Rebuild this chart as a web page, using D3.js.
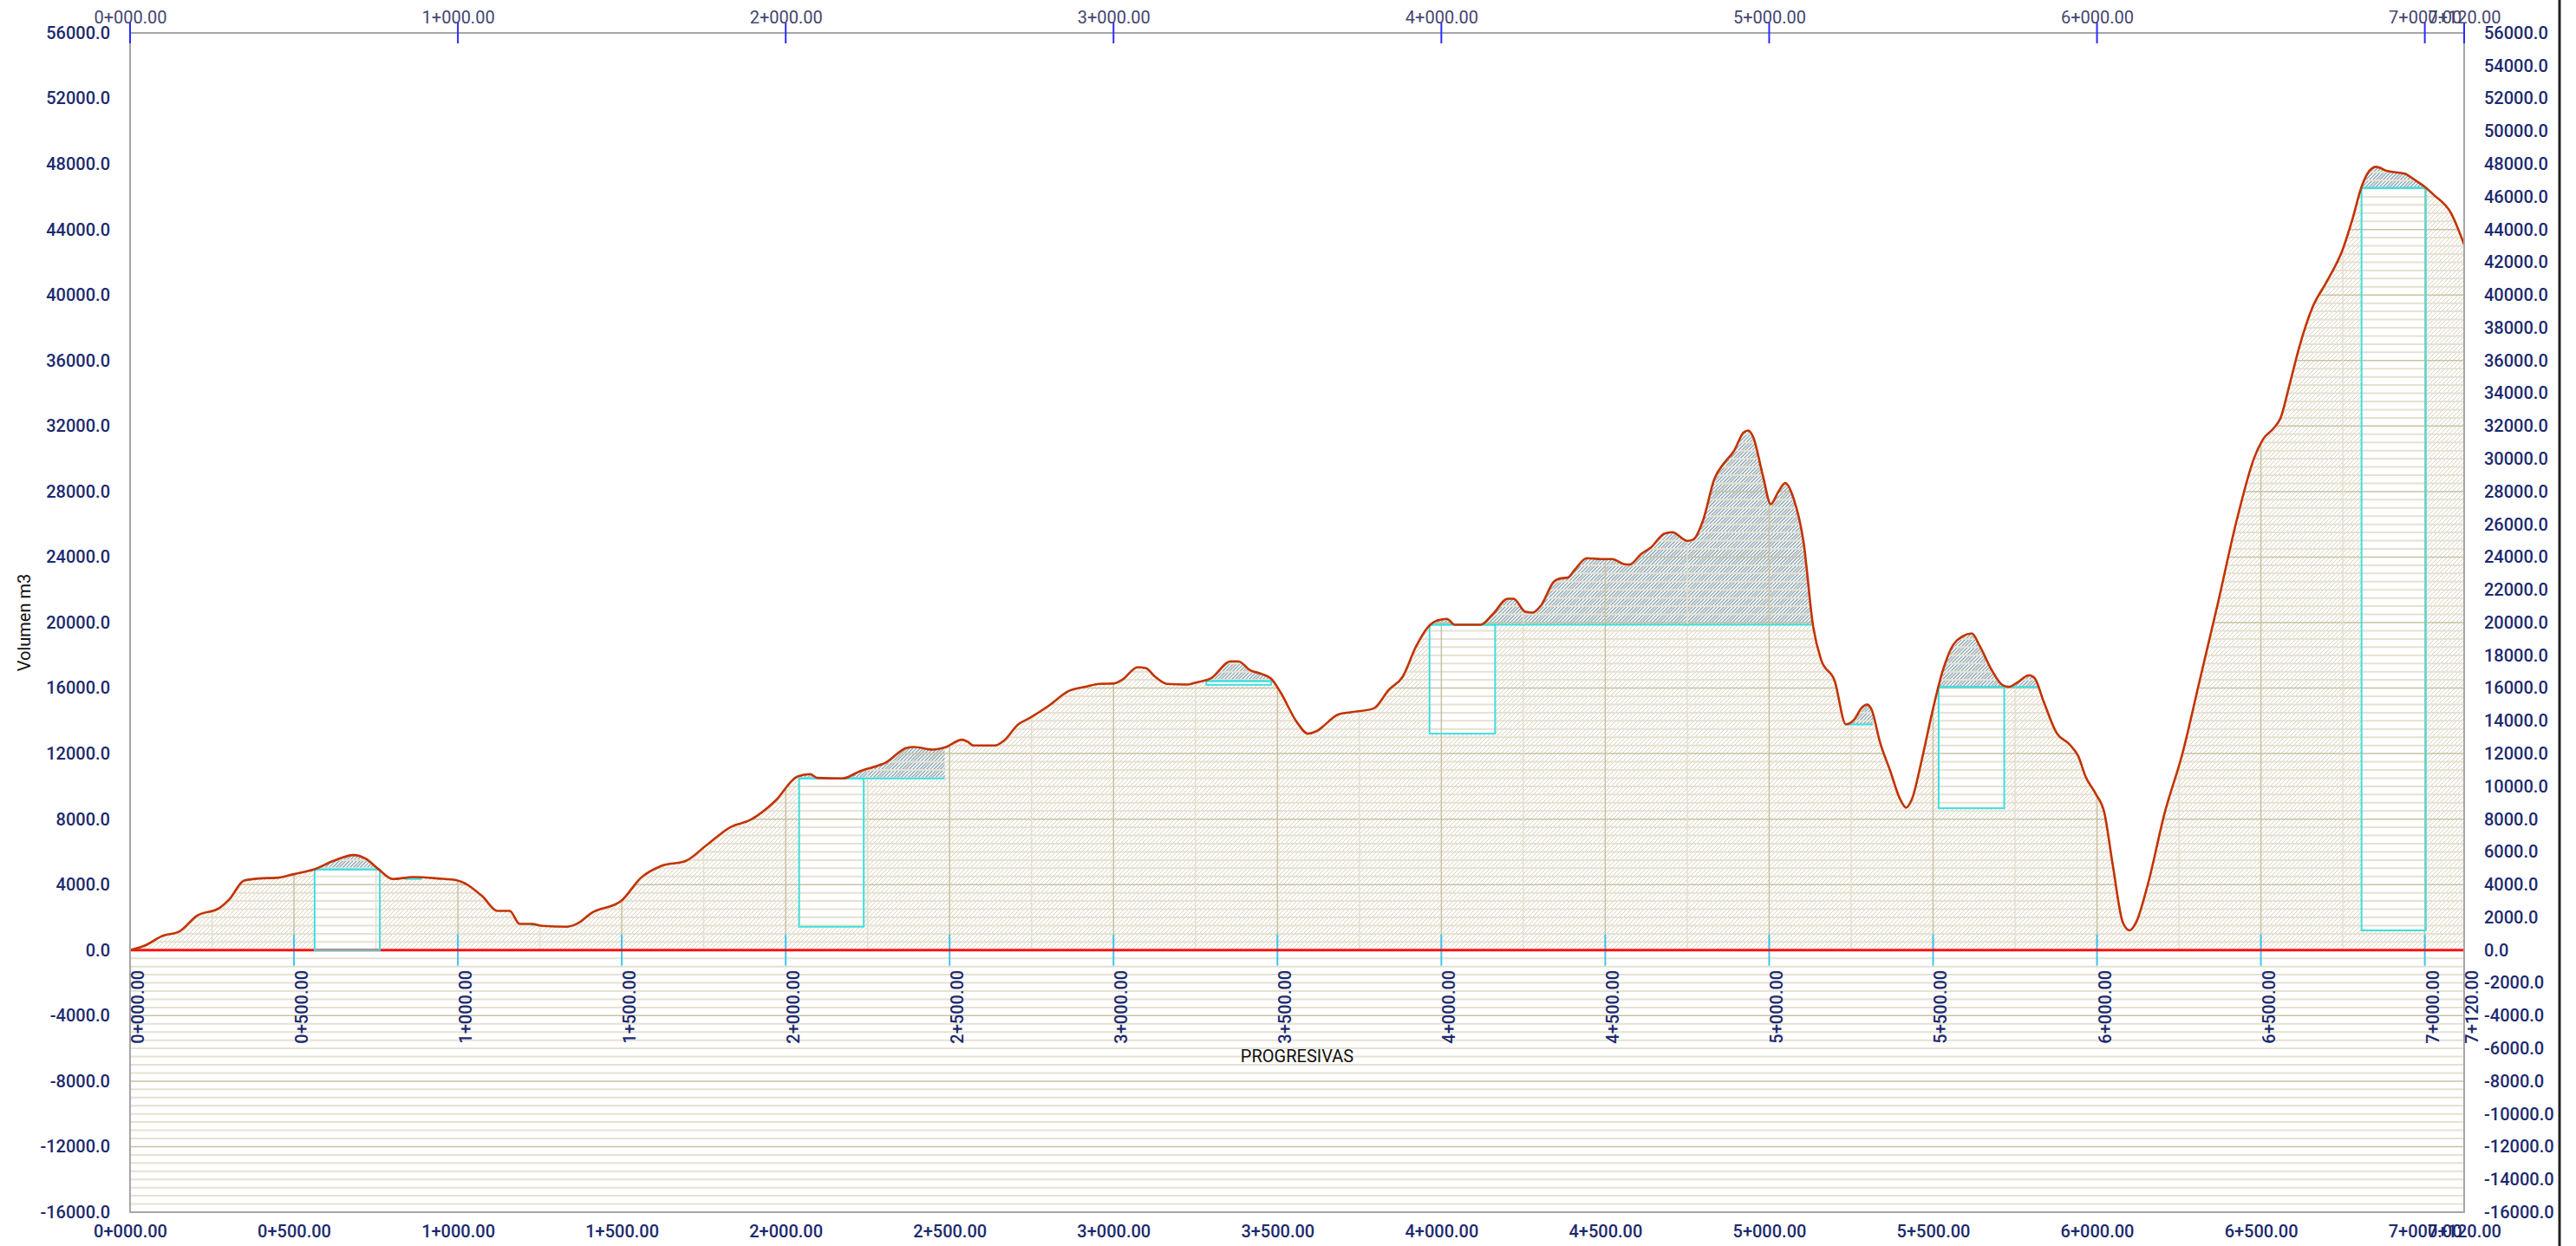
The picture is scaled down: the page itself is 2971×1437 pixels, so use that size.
<!DOCTYPE html>
<html><head><meta charset="utf-8">
<script src="https://cdn.jsdelivr.net/npm/d3@7"></script>
<style>html,body{margin:0;padding:0;background:#fff;} svg{display:block;font-family:Roboto,"DejaVu Sans",sans-serif;}</style>
</head><body><svg id="chart" width="2971" height="1437"></svg>
<script>
// ---- DATA ----
const stations = [0,45,98,151,204,273,303,348,394,454,500,560,621,681,719,757,802,863,939,999,1075,1120,1158,1188,1226,1257,1332,1363,1408,1499,1559,1620,1696,1756,1832,1893,1968,2036,2074,2097,2173,2226,2308,2367,2391,2449,2485,2538,2555,2573,2638,2667,2709,2744,2803,2862,2921,2956,3003,3027,3074,3098,3127,3163,3227,3251,3298,3357,3381,3416,3451,3481,3510,3558,3593,3616,3687,3723,3793,3840,3882,3923,3958,3988,4017,4041,4120,4156,4203,4220,4256,4279,4303,4344,4362,4386,4409,4444,4486,4521,4556,4574,4610,4639,4680,4704,4751,4769,4798,4833,4863,4892,4922,4936,4951,4981,5005,5028,5049,5075,5105,5134,5158,5200,5234,5258,5282,5299,5311,5339,5369,5400,5418,5435,5466,5497,5528,5554,5590,5618,5643,5678,5713,5731,5757,5793,5810,5837,5877,5917,5943,5965,5996,6022,6048,6079,6100,6119,6154,6207,6260,6313,6366,6428,6480,6507,6538,6560,6586,6617,6657,6701,6749,6780,6807,6825,6851,6886,6939,6965,7000,7027,7080,7120];
const volumes = [0,281,864,1149,2100,2577,3107,4253,4376,4429,4641,4923,5453,5805,5577,4958,4341,4465,4376,4253,3282,2400,2400,1606,1606,1482,1429,1606,2276,3018,4429,5135,5453,6370,7517,7958,9106,10606,10747,10518,10482,10924,11488,12335,12405,12247,12370,12847,12723,12494,12494,12811,13782,14170,14929,15811,16110,16253,16288,16517,17275,17222,16693,16253,16217,16340,16605,17629,17629,17100,16870,16570,15723,13958,13217,13340,14400,14523,14752,15900,16693,18546,19694,20135,20223,19870,19870,20488,21458,21458,20664,20611,21017,22517,22694,22747,23277,23929,23876,23876,23576,23541,24194,24582,25429,25517,24988,25076,26223,28782,29753,30459,31605,31729,31341,28958,27229,27988,28517,27547,24899,19782,17753,16428,13782,14047,14788,14990,14752,12635,10959,9194,8700,9194,11665,14488,16958,18370,19164,19341,18546,17135,16164,16075,16340,16782,16605,15193,13253,12547,11841,10606,9547,8423,5215,1684,1207,1684,3933,8423,11954,16443,20938,26391,30080,31203,31843,32489,34411,36820,39229,40827,42754,44681,46603,47408,47826,47566,47408,47085,46603,46121,44999,43077];

// balance rectangles (cyan)
const rectStart  = [563, 2041, 3283, 3964, 5517, 6807];
const rectEnd    = [762, 2238, 3481, 4164, 5717, 7003];
const rectTop    = [4923, 10482, 16428, 19870, 16075, 46540];
const rectBottom = [0, 1429, 16200, 13217, 8665, 1207];

// balance lines (cyan horizontals with hatched surplus above)
const balStart = [563, 838, 1222, 2041, 3283, 3964, 5234, 5517, 6807];
const balEnd   = [762, 891, 1246, 2485, 3481, 5128, 5317, 5819, 7003];
const balValue = [4923, 4341, 1535, 10482, 16428, 19870, 13782, 16075, 46540];

const leftTicks  = d3.range(56000, -16001, -4000);
const rightTicks = d3.range(56000, -16001, -2000);
const topTicks   = [0,1000,2000,3000,4000,5000,6000,7000,7120];
const bottomTicks= [0,500,1000,1500,2000,2500,3000,3500,4000,4500,5000,5500,6000,6500,7000,7120];

// ---- SCALES ----
const L=150, R=2842, T=38, B=1398;
const x = d3.scaleLinear().domain([0,7120]).range([L,R]);
const y = d3.scaleLinear().domain([-16000,56000]).range([B,T]);
const pts = stations.map((s,i)=>({s, v:volumes[i]}));
const fmtSt = s => Math.floor(s/1000)+"+"+((s%1000).toFixed(2)).padStart(6,"0");
const fmtV = v => v.toFixed(1);

const svg = d3.select("#chart");
const defs = svg.append("defs");
function hatch(id, color, w, sp){
  const p = defs.append("pattern").attr("id",id).attr("patternUnits","userSpaceOnUse")
    .attr("width",sp).attr("height",sp);
  p.append("path").attr("d",`M-1,1 L1,-1 M0,${sp} L${sp},0 M${sp-1},${sp+1} L${sp+1},${sp-1}`)
    .attr("stroke",color).attr("stroke-width",w);
}
hatch("hb","#d8d1bb",1,5);
hatch("hblue","#8facbd",1.3,4);

const areaUnder = d3.area().x(d=>x(d.s)).y0(y(0)).y1(d=>y(d.v)).curve(d3.curveMonotoneX);
defs.append("clipPath").attr("id","under").append("path").attr("d",areaUnder(pts));

// grid below zero
const gBelow = svg.append("g");
d3.range(-500,-16001,-500).forEach(v=>{
  const dark = v%4000===0;
  gBelow.append("line").attr("x1",L).attr("x2",R).attr("y1",y(v)).attr("y2",y(v))
   .attr("stroke",dark?"#c9c1a1":"#e6e1d2").attr("stroke-width",dark?1.5:2);
});

// under-curve content
const gU = svg.append("g").attr("clip-path","url(#under)");
gU.append("rect").attr("x",L).attr("y",T).attr("width",R-L).attr("height",y(0)-T).attr("fill","url(#hb)");
balStart.forEach((s,i)=>{
  gU.append("rect").attr("x",x(s)).attr("y",T).attr("width",x(balEnd[i])-x(s)).attr("height",y(balValue[i])-T)
    .attr("fill","url(#hblue)");
});
rectStart.forEach((s,i)=>{
  gU.append("rect").attr("x",x(s)).attr("y",y(rectTop[i])).attr("width",x(rectEnd[i])-x(s))
    .attr("height",y(rectBottom[i])-y(rectTop[i])).attr("fill","#fff");
});
d3.range(500,56001,500).forEach(v=>{
  const dark = v%4000===0;
  gU.append("line").attr("x1",L).attr("x2",R).attr("y1",y(v)).attr("y2",y(v))
   .attr("stroke",dark?"#c9c1a1":"#e6e1d2").attr("stroke-width",dark?1.5:2);
});
d3.range(250,7120,250).forEach(s=>{
  const dark = s%500===0;
  gU.append("line").attr("x1",x(s)).attr("x2",x(s)).attr("y1",T).attr("y2",y(0))
   .attr("stroke",dark?"#c9c1a1":"#e3dfcf").attr("stroke-width",1.5);
});

// cyan ticks on zero line
bottomTicks.forEach(s=>{
  svg.append("line").attr("x1",x(s)).attr("x2",x(s)).attr("y1",y(950)).attr("y2",y(-950))
    .attr("stroke","#3cc6f2").attr("stroke-width",2);
});
// zero line
svg.append("line").attr("x1",L).attr("x2",R).attr("y1",y(0)).attr("y2",y(0))
  .attr("stroke","#ff1010").attr("stroke-width",3);

// balance lines & rects
balStart.forEach((s,i)=>{
  svg.append("line").attr("x1",x(s)).attr("x2",x(balEnd[i])).attr("y1",y(balValue[i])).attr("y2",y(balValue[i]))
    .attr("stroke","#3fdede").attr("stroke-width",2);
});
rectStart.forEach((s,i)=>{
  svg.append("rect").attr("x",x(s)).attr("y",y(rectTop[i])).attr("width",x(rectEnd[i])-x(s))
    .attr("height",y(rectBottom[i])-y(rectTop[i])).attr("fill","none").attr("stroke","#3fdede").attr("stroke-width",2);
});

// curve
const line = d3.line().x(d=>x(d.s)).y(d=>y(d.v)).curve(d3.curveMonotoneX);
svg.append("path").attr("d",line(pts)).attr("fill","none").attr("stroke","#c23300").attr("stroke-width",2.6);

// border
svg.append("rect").attr("x",L).attr("y",T).attr("width",R-L).attr("height",B-T)
  .attr("fill","none").attr("stroke","#a6a6a6").attr("stroke-width",2);

// top blue ticks
topTicks.forEach(s=>{
  svg.append("line").attr("x1",x(s)).attr("x2",x(s)).attr("y1",26).attr("y2",50)
    .attr("stroke","#2b2bff").attr("stroke-width",2);
});

function styleAxis(g, color, weight){
  g.select(".domain").remove();
  g.selectAll("line").remove();
  g.attr("font-family","Roboto, 'DejaVu Sans', sans-serif").attr("font-size",20);
  g.selectAll("text").attr("fill",color).attr("font-weight",weight);
}
const navy = "#1c2a6e";
svg.append("g").attr("transform",`translate(${L},0)`)
  .call(d3.axisLeft(y).tickValues(leftTicks).tickFormat(fmtV).tickSize(0).tickPadding(23))
  .call(g=>styleAxis(g,navy,500));
svg.append("g").attr("transform",`translate(${R},0)`)
  .call(d3.axisRight(y).tickValues(rightTicks).tickFormat(fmtV).tickSize(0).tickPadding(23))
  .call(g=>styleAxis(g,navy,500));
svg.append("g").attr("transform",`translate(0,${T})`)
  .call(d3.axisTop(x).tickValues(topTicks).tickFormat(fmtSt).tickSize(0).tickPadding(11))
  .call(g=>styleAxis(g,"#45456f",400));
svg.append("g").attr("transform",`translate(0,${B})`)
  .call(d3.axisBottom(x).tickValues(bottomTicks).tickFormat(fmtSt).tickSize(0).tickPadding(15))
  .call(g=>styleAxis(g,navy,500));

// rotated station labels under zero
svg.append("g").selectAll("text").data(bottomTicks).join("text")
  .attr("transform",s=>`translate(${x(s)+16},${y(0)+23}) rotate(-90)`)
  .attr("text-anchor","end").attr("font-size",20).attr("font-weight",500).attr("fill",navy)
  .text(fmtSt);

// titles
svg.append("text").attr("x",(L+R)/2).attr("y",1225).attr("text-anchor","middle")
  .attr("font-size",20).attr("fill","#111").text("PROGRESIVAS");
svg.append("text").attr("transform",`translate(35,${(T+B)/2}) rotate(-90)`).attr("text-anchor","middle")
  .attr("font-size",20).attr("fill","#111").text("Volumen m3");

// right black frame line
svg.append("line").attr("x1",2952).attr("x2",2952).attr("y1",0).attr("y2",1437)
  .attr("stroke","#222").attr("stroke-width",3);
</script></body></html>
